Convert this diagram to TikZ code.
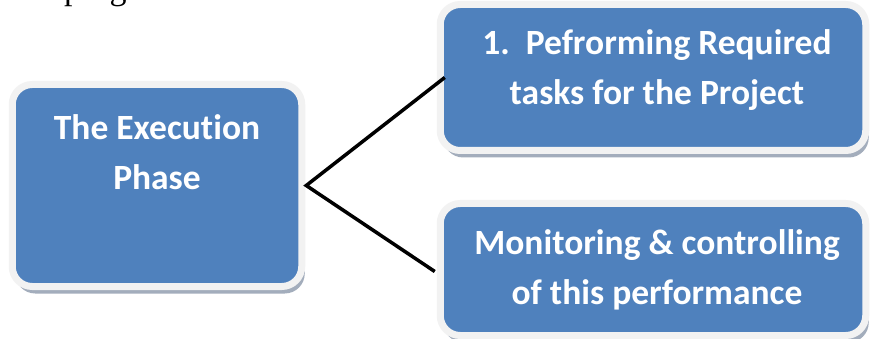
\documentclass[tikz,border=0pt]{standalone}
\usepackage{fontspec}
\setmainfont[Ligatures=NoCommon]{Carlito}
\newfontfamily\bodyserif{Liberation Serif}
\usetikzlibrary{shadows,calc}

\definecolor{boxblue}{HTML}{4F81BD}
\definecolor{rimgray}{HTML}{F2F2F2}
\definecolor{shadowgray}{HTML}{A3ADBC}

\tikzset{
  phasebox/.style={rectangle, rounded corners=20pt, fill=boxblue,
    draw=rimgray, line width=7pt, inner sep=0pt,
    drop shadow={shadow xshift=3pt, shadow yshift=-7pt,
      fill=shadowgray, opacity=1}},
  boxlabel/.style={text=white, inner sep=0pt, align=center,
    font=\bfseries\fontsize{35.5}{50}\selectfont},
  link/.style={line width=3.5pt, draw=black}
}

\begin{document}
\begin{tikzpicture}[x=1pt, y=-1pt]
  \useasboundingbox[fill=white] (0,0) rectangle (870,339);

  % descenders of the running text line above the figure
  \node[anchor=base west, inner sep=0pt, font=\bodyserif\fontsize{34}{40}\selectfont]
    (prevline) at (64,-0.5) {prog};

  % boxes
  \node[phasebox, minimum width=289.5pt, minimum height=202pt] (phase) at (157,185.5) {};
  \node[phasebox, minimum width=425.5pt, minimum height=146pt] (tasks) at (653,77.5) {};
  \node[phasebox, minimum width=425.5pt, minimum height=132pt] (monitor) at (653,269.5) {};

  % box texts
  \node[boxlabel] (phaselabel) at (157,152.5) {The Execution\\Phase};
  \node[boxlabel] (taskslabel) at (657,70.5) {1.\ \ Pefrorming Required\\tasks for the Project};
  \node[boxlabel] (monitorlabel) at (657,269.5) {Monitoring \& controlling\\of this performance};

  % connectors
  \coordinate (fork) at ($(phase.east)+(1,0)$);
  \coordinate (tasksend) at ($(tasks.west)+(8,0)$);
  \coordinate (monitorend) at ($(monitor.west)+(-2,2)$);
  \draw[link] (tasksend) -- (fork) -- (monitorend);
\end{tikzpicture}
\end{document}
